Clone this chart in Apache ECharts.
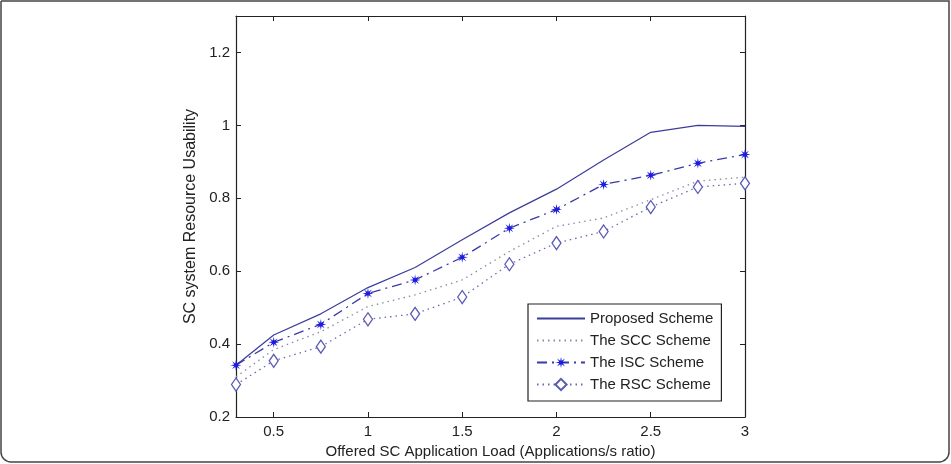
<!DOCTYPE html>
<html>
<head>
<meta charset="utf-8">
<script src="https://cdn.jsdelivr.net/npm/echarts@6/dist/echarts.min.js"></script>
<style>
  html, body { margin: 0; padding: 0; background: #fff; }
  #chart { width: 951px; height: 464px; }
</style>
</head>
<body>
<div id="chart"></div>
<script>
// offered load (x values)
var loads = [0.3, 0.5, 0.75, 1, 1.25, 1.5, 1.75, 2, 2.25, 2.5, 2.75, 3];

// resource usability per scheme
var proposed = [0.342, 0.425, 0.483, 0.555, 0.61, 0.686, 0.76, 0.825, 0.905, 0.981, 1.0, 0.997];
var scc      = [0.31, 0.385, 0.434, 0.503, 0.535, 0.576, 0.654, 0.723, 0.746, 0.796, 0.847, 0.858];
var isc      = [0.342, 0.405, 0.454, 0.539, 0.576, 0.638, 0.718, 0.769, 0.838, 0.863, 0.896, 0.92];
var rsc      = [0.289, 0.354, 0.393, 0.468, 0.483, 0.529, 0.619, 0.677, 0.709, 0.776, 0.831, 0.841];

var xTicks = [0.5, 1, 1.5, 2, 2.5, 3];
var yTicks = [0.2, 0.4, 0.6, 0.8, 1, 1.2];

function pairs(ys) {
    return loads.map(function (x, i) { return [x, ys[i]]; });
}

var starPath = 'path://M10,0L3.23,1.34L7.07,7.07L1.34,3.23L0,10L-1.34,3.23L-7.07,7.07L-3.23,1.34L-10,0L-3.23,-1.34L-7.07,-7.07L-1.34,-3.23L0,-10L1.34,-3.23L7.07,-7.07L3.23,-1.34Z';

var chart = echarts.init(document.getElementById('chart'));

var font = 'Liberation Sans, Arial, sans-serif';
var axisLine = { show: true, onZero: false, lineStyle: { color: '#222', width: 1.2 } };

var options = {
    animation: false,
    backgroundColor: '#fff',
    textStyle: { fontFamily: font },
    graphic: [{
        type: 'rect',
        shape: { x: 1, y: 1, width: 948, height: 461, r: [0, 0, 10, 10] },
        style: { fill: 'none', stroke: '#444', lineWidth: 1.5 },
        silent: true
    }],
    grid: { left: 236, right: 206, top: 16, bottom: 47 },
    xAxis: [{
        type: 'value', min: 0.3, max: 3,
        name: 'Offered SC Application Load (Applications/s ratio)',
        nameLocation: 'middle', nameGap: 25,
        nameTextStyle: { color: '#222', fontSize: 15, fontFamily: font },
        axisLine: axisLine,
        axisTick: { inside: true, length: 5, customValues: xTicks, lineStyle: { color: '#222' } },
        axisLabel: { customValues: xTicks, color: '#222', fontSize: 15, margin: 7, fontFamily: font },
        splitLine: { show: false }
    }, {
        type: 'value', min: 0.3, max: 3, position: 'top',
        axisLine: axisLine,
        axisTick: { inside: true, length: 5, customValues: xTicks, lineStyle: { color: '#222' } },
        axisLabel: { show: false },
        splitLine: { show: false }
    }],
    yAxis: [{
        type: 'value', min: 0.2, max: 1.3,
        name: 'SC system Resource Usability',
        nameLocation: 'middle', nameGap: 32, nameRotate: 90,
        nameTextStyle: { color: '#222', fontSize: 16, fontFamily: font },
        axisLine: axisLine,
        axisTick: { inside: true, length: 5, customValues: yTicks, lineStyle: { color: '#222' } },
        axisLabel: { customValues: yTicks, color: '#222', fontSize: 15, margin: 6, fontFamily: font },
        splitLine: { show: false }
    }, {
        type: 'value', min: 0.2, max: 1.3, position: 'right',
        axisLine: axisLine,
        axisTick: { inside: true, length: 5, customValues: yTicks, lineStyle: { color: '#222' } },
        axisLabel: { show: false },
        splitLine: { show: false }
    }],
    legend: {
        orient: 'vertical',
        left: 528, top: 304,
        itemWidth: 48, itemHeight: 14, itemGap: 7,
        padding: [7, 8, 9, 8],
        borderColor: '#222', borderWidth: 1.2,
        backgroundColor: '#fff',
        textStyle: { color: '#222', fontSize: 15, fontFamily: font },
        data: [
            { name: 'Proposed Scheme', itemStyle: { opacity: 0 } },
            { name: 'The SCC Scheme', itemStyle: { opacity: 0 } },
            { name: 'The ISC Scheme' },
            { name: 'The RSC Scheme' }
        ]
    },
    series: [
        {
            name: 'Proposed Scheme', type: 'line', data: pairs(proposed),
            symbol: 'none', lineStyle: { color: '#3c3c9c', width: 1.2, type: 'solid' },
            itemStyle: { color: '#3c3c9c' }
        },
        {
            name: 'The SCC Scheme', type: 'line', data: pairs(scc),
            symbol: 'none', lineStyle: { color: '#8a8aa8', width: 1.3, type: [1.5, 4] },
            itemStyle: { color: '#8a8aa8' }
        },
        {
            name: 'The ISC Scheme', type: 'line', data: pairs(isc),
            symbol: starPath, symbolSize: 11,
            lineStyle: { color: '#3a3aa8', width: 1.3, type: [10, 5, 2, 5] },
            itemStyle: { color: '#1c1ce0' }
        },
        {
            name: 'The RSC Scheme', type: 'line', data: pairs(rsc),
            symbol: 'diamond', symbolSize: [9, 13],
            lineStyle: { color: '#6a6aaa', width: 1.3, type: [1.5, 4] },
            itemStyle: { color: '#fff', borderColor: '#5a5ab4', borderWidth: 1.3 }
        }
    ]
};

chart.setOption(options);
</script>
</body>
</html>
